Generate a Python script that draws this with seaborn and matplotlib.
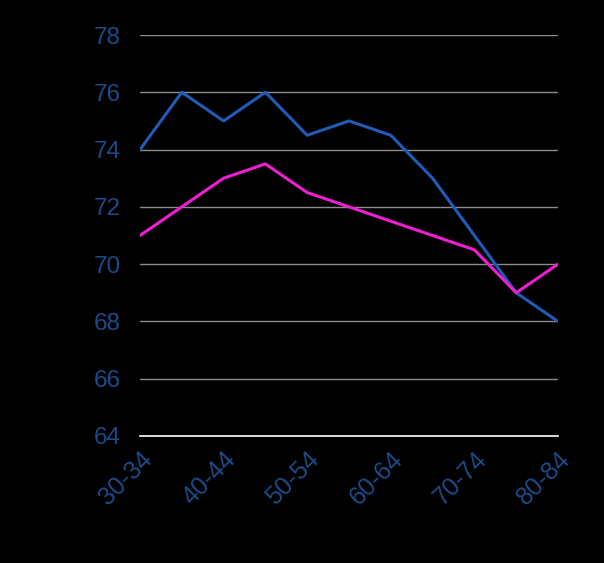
import matplotlib
matplotlib.use("Agg")
import matplotlib.pyplot as plt
import seaborn as sns
import pandas as pd

categories = ["30-34", "35-39", "40-44", "45-49", "50-54", "55-59",
              "60-64", "65-69", "70-74", "75-79", "80-84"]
series_blue = [74, 76, 75, 76, 74.5, 75, 74.5, 73, 71, 69, 68]
series_pink = [71, 72, 73, 73.5, 72.5, 72, 71.5, 71, 70.5, 69, 70]
y_ticks = [64, 66, 68, 70, 72, 74, 76, 78]

sns.set_theme(style="white")
plt.rcParams['font.family'] = ['Liberation Sans', 'DejaVu Sans']

df = pd.DataFrame({
    "idx": list(range(len(categories))) * 2,
    "value": series_blue + series_pink,
    "series": ["A"] * len(categories) + ["B"] * len(categories),
})

fig = plt.figure(figsize=(6.04, 5.63), dpi=100, facecolor="black")
ax = fig.add_axes([140/604, 1 - 436/563, (558-140)/604, (436-35)/563])
ax.set_facecolor("black")

sns.lineplot(data=df, x="idx", y="value", hue="series",
             palette={"A": "#1F5BB8", "B": "#F01ED2"}, linewidth=2.2,
             legend=False, ax=ax)

ax.set_xlim(0, len(categories) - 1)
ax.set_ylim(64, 78)
ax.set_yticks(y_ticks)
ax.set_yticklabels([str(v) for v in y_ticks], fontsize=17.5, color="#1C4A88")
ax.set_xticks(list(range(0, len(categories), 2)))
ax.set_xticklabels(categories[::2], fontsize=18, color="#1C4A88",
                   rotation=45, ha="right", rotation_mode="anchor")
ax.tick_params(axis="both", length=0)
ax.tick_params(axis="y", pad=14)
ax.tick_params(axis="x", pad=8)
ax.set_xlabel("")
ax.set_ylabel("")

for v in y_ticks[1:]:
    ax.axhline(v, color="#8C8C8C", linewidth=1, zorder=0)
for s in ["top", "right", "left"]:
    ax.spines[s].set_visible(False)
ax.spines["bottom"].set_color("white")
ax.spines["bottom"].set_linewidth(1.2)

fig.savefig("out.png", dpi=100, facecolor="black")
